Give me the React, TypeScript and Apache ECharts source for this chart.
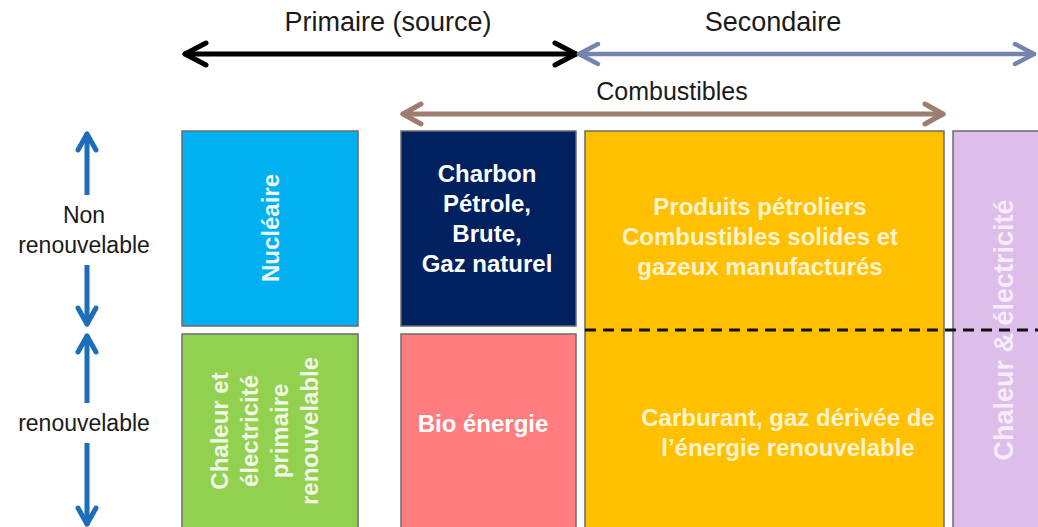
import React, { useEffect, useRef } from "react";
import * as echarts from "echarts";

// ---- Diagram content ----
const topLabels = ["Primaire (source)", "Secondaire", "Combustibles"];
const sideLabels = ["Non\nrenouvelable", "renouvelable"];
const boxLabels = [
  "Nucléaire",
  "Chaleur et\nélectricité\nprimaire\nrenouvelable",
  "Charbon\nPétrole,\nBrute,\nGaz naturel",
  "Bio énergie",
  "Produits pétroliers\nCombustibles solides et\ngazeux manufacturés",
  "Carburant, gaz dérivée de\nl’énergie renouvelable",
  "Chaleur & électricité",
];

// ---- Layout (diagram units = pixels of the 1038x527 canvas) ----
// boxes: [x0, y0, x1, y1]
const boxRects = [
  [182, 131, 358, 326],
  [182, 334, 358, 540],
  [401, 131, 576, 326],
  [401, 334, 576, 540],
  [585, 131, 944, 540],
  [953, 131, 1050, 540],
];
const boxColors = ["#00B0F0", "#92D050", "#002060", "#FF7C80", "#FFC000", "#DDBDE9"];
// texts inside boxes: [x, y, rotated(0/1), fontSize, colour, labelIndex]
const boxTexts: [number, number, number, number, string, number][] = [
  [270, 228, 1, 24, "#EAF8FE", 0],
  [264, 431, 1, 24, "#F1F7E6", 1],
  [487, 218, 0, 24, "#FFFFFF", 2],
  [483, 423, 0, 24, "#FFFFFF", 3],
  [760, 236, 0, 24, "#FFF3CF", 4],
  [788, 432, 0, 24, "#FFF3CF", 5],
  [1004, 330, 1, 27, "#F6ECFA", 6],
];
// arrows: [x0, y0, x1, y1, colour, width, headLength, headHalfWidth]
const arrows: [number, number, number, number, string, number, number, number][] = [
  [185, 54, 576, 54, "#000000", 5, 21, 11],
  [579, 54, 1034, 54, "#7584AE", 4.5, 19, 10],
  [403, 114, 943, 114, "#9C7D70", 5, 18, 10],
  [87, 134, 87, 324, "#1C6EB9", 5, 16, 9],
  [87, 336, 87, 524, "#1C6EB9", 5, 16, 9],
];
// blank segments cut out of the vertical arrows (where text sits): [x, y0, y1]
const arrowGaps = [
  [87, 195, 265],
  [87, 403, 443],
];
// outside texts: [x, y, fontSize, text]
const outsideTexts: [number, number, number, string][] = [
  [388, 22, 27, topLabels[0]],
  [773, 22, 27, topLabels[1]],
  [672, 91, 25, topLabels[2]],
  [84, 230, 23, sideLabels[0]],
  [84, 423, 23, sideLabels[1]],
];
const dashed = [[585, 330, 1038, 330]];

const FONT = "'Liberation Sans', Arial, sans-serif";

export default function App() {
  const ref = useRef<HTMLDivElement>(null);
  useEffect(() => {
    document.body.style.margin = "0";
    const chart = echarts.init(ref.current!, undefined, { renderer: "svg" });

    const boxSeries = {
      type: "custom",
      coordinateSystem: "cartesian2d",
      clip: false,
      data: boxRects,
      renderItem: (params: any, api: any) => {
        const p0 = api.coord([api.value(0), api.value(1)]);
        const p1 = api.coord([api.value(2), api.value(3)]);
        return {
          type: "rect",
          shape: { x: p0[0], y: p0[1], width: p1[0] - p0[0], height: p1[1] - p0[1] },
          style: { fill: boxColors[params.dataIndex], stroke: "#6B6B6B", lineWidth: 1.5 },
        };
      },
      z: 1,
    };

    const dashSeries = {
      type: "custom",
      coordinateSystem: "cartesian2d",
      clip: false,
      data: dashed,
      renderItem: (_p: any, api: any) => {
        const a = api.coord([api.value(0), api.value(1)]);
        const b = api.coord([api.value(2), api.value(3)]);
        return {
          type: "line",
          shape: { x1: a[0], y1: a[1], x2: b[0], y2: b[1] },
          style: { stroke: "#111", lineWidth: 3, lineDash: [11, 7] },
        };
      },
      z: 2,
    };

    const boxTextSeries = {
      type: "custom",
      coordinateSystem: "cartesian2d",
      clip: false,
      data: boxTexts.map((t) => [t[0], t[1]]),
      renderItem: (params: any, api: any) => {
        const t = boxTexts[params.dataIndex];
        const p = api.coord([api.value(0), api.value(1)]);
        return {
          type: "text",
          x: p[0],
          y: p[1],
          rotation: t[2] ? Math.PI / 2 : 0,
          style: {
            text: boxLabels[t[5]],
            fill: t[4],
            fontSize: t[3],
            fontWeight: "bold",
            fontFamily: FONT,
            align: "center",
            verticalAlign: "middle",
            lineHeight: 30,
          },
        };
      },
      z: 3,
    };

    const arrowSeries = {
      type: "custom",
      coordinateSystem: "cartesian2d",
      clip: false,
      data: arrows.map((a) => [a[0], a[1], a[2], a[3]]),
      renderItem: (params: any, api: any) => {
        const ar = arrows[params.dataIndex];
        const a = api.coord([api.value(0), api.value(1)]);
        const b = api.coord([api.value(2), api.value(3)]);
        const dx = b[0] - a[0];
        const dy = b[1] - a[1];
        const len = Math.hypot(dx, dy);
        const ux = dx / len;
        const uy = dy / len;
        const L = ar[6];
        const W = ar[7];
        const head = (tip: number[], dir: number) => [
          [tip[0] + dir * ux * L - uy * W, tip[1] + dir * uy * L + ux * W],
          tip,
          [tip[0] + dir * ux * L + uy * W, tip[1] + dir * uy * L - ux * W],
        ];
        const style = { stroke: ar[4], lineWidth: ar[5], lineCap: "round", lineJoin: "round", fill: null };
        return {
          type: "group",
          children: [
            { type: "line", shape: { x1: a[0], y1: a[1], x2: b[0], y2: b[1] }, style },
            { type: "polyline", shape: { points: head(a, 1) }, style },
            { type: "polyline", shape: { points: head(b, -1) }, style },
          ],
        };
      },
      z: 2,
    };

    const gapSeries = {
      type: "custom",
      coordinateSystem: "cartesian2d",
      clip: false,
      data: arrowGaps,
      renderItem: (_p: any, api: any) => {
        const a = api.coord([api.value(0), api.value(1)]);
        const b = api.coord([api.value(0), api.value(2)]);
        return {
          type: "rect",
          shape: { x: a[0] - 12, y: a[1], width: 24, height: b[1] - a[1] },
          style: { fill: "#fff" },
        };
      },
      z: 4,
    };

    const outsideTextSeries = {
      type: "custom",
      coordinateSystem: "cartesian2d",
      clip: false,
      data: outsideTexts.map((t) => [t[0], t[1]]),
      renderItem: (params: any, api: any) => {
        const t = outsideTexts[params.dataIndex];
        const p = api.coord([api.value(0), api.value(1)]);
        return {
          type: "text",
          x: p[0],
          y: p[1],
          style: {
            text: t[3],
            fill: "#1A1A1A",
            fontSize: t[2],
            fontFamily: FONT,
            align: "center",
            verticalAlign: "middle",
            lineHeight: 30,
          },
        };
      },
      z: 5,
    };

    chart.setOption({
      animation: false,
      backgroundColor: "#FFFFFF",
      grid: { left: 0, right: 0, top: 0, bottom: 0 },
      xAxis: { type: "value", min: 0, max: 1038, show: false },
      yAxis: { type: "value", min: 0, max: 527, inverse: true, show: false },
      series: [boxSeries, dashSeries, boxTextSeries, arrowSeries, gapSeries, outsideTextSeries],
    });
    return () => chart.dispose();
  }, []);
  return <div ref={ref} style={{ width: 1038, height: 527, overflow: "hidden" }} />;
}
